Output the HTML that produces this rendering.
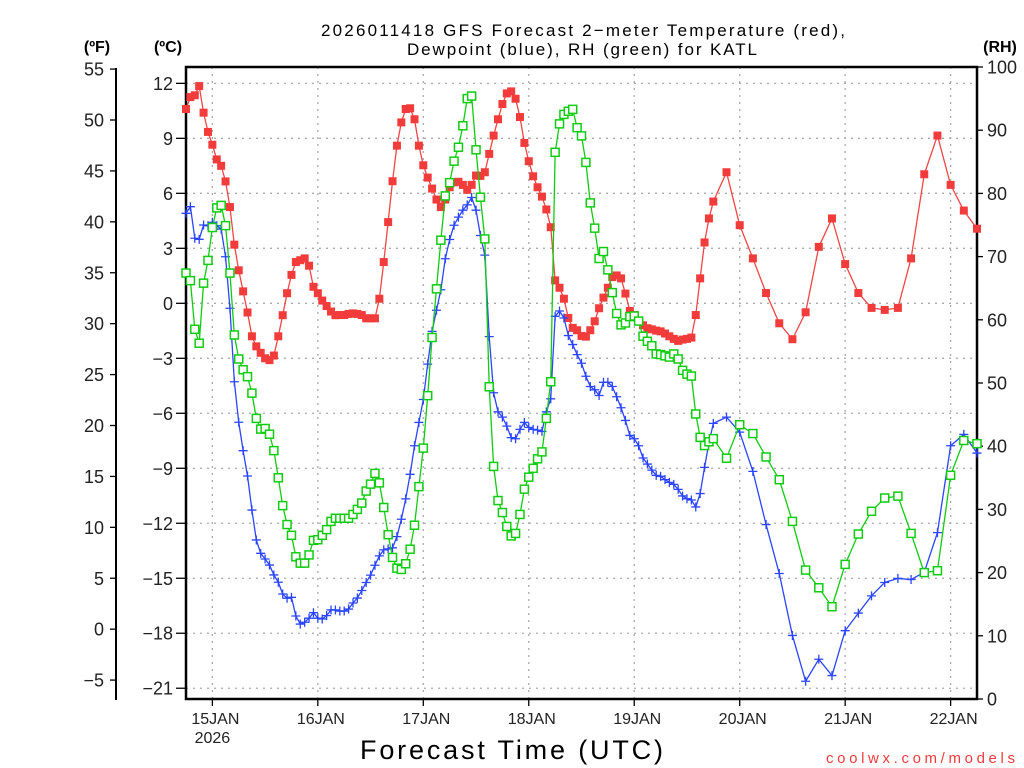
<!DOCTYPE html>
<html><head><meta charset="utf-8"><style>
html,body{margin:0;padding:0;background:#fff;}
svg{display:block;font-family:"Liberation Sans",sans-serif;}
</style></head><body>
<svg id="chart" width="1024" height="768" viewBox="0 0 1024 768" xmlns="http://www.w3.org/2000/svg">
<text x="321" y="36" font-size="17" textLength="524" lengthAdjust="spacing" fill="#000">2026011418 GFS Forecast 2−meter Temperature (red),</text>
<text x="407" y="55" font-size="17" textLength="350" lengthAdjust="spacing" fill="#000">Dewpoint (blue), RH (green) for KATL</text>
<text x="97" y="52" font-size="16" font-weight="bold" text-anchor="middle">(ºF)</text>
<text x="168" y="52" font-size="16" font-weight="bold" text-anchor="middle">(ºC)</text>
<text x="1000" y="52" font-size="16" font-weight="bold" text-anchor="middle">(RH)</text>
<g id="grid"></g>
<g id="axes"></g>
<g id="series"></g>
<text x="360" y="759" font-size="27" textLength="303" lengthAdjust="spacing">Forecast Time (UTC)</text>
<text x="826" y="763" font-size="15" textLength="189" lengthAdjust="spacing" fill="#f03c3c">coolwx.com/models</text>
</svg>
<script>
const hours = [0,1,2,3,4,5,6,7,8,9,10,11,12,13,14,15,16,17,18,19,20,21,22,23,24,25,26,27,28,29,30,31,32,33,34,35,36,37,38,39,40,41,42,43,44,45,46,47,48,49,50,51,52,53,54,55,56,57,58,59,60,61,62,63,64,65,66,67,68,69,70,71,72,73,74,75,76,77,78,79,80,81,82,83,84,85,86,87,88,89,90,91,92,93,94,95,96,97,98,99,100,101,102,103,104,105,106,107,108,109,110,111,112,113,114,115,116,117,118,119,120,123,126,129,132,135,138,141,144,147,150,153,156,159,162,165,168,171,174,177,180];
const tempC = [10.6,11.25,11.35,11.85,10.4,9.35,8.65,7.85,7.5,6.65,5.25,3.2,1.8,0.65,-0.5,-1.8,-2.35,-2.7,-3.0,-3.1,-2.85,-1.8,-0.65,0.55,1.55,2.25,2.35,2.45,2.05,0.9,0.55,0.15,-0.15,-0.45,-0.65,
-0.64,-0.64,-0.58,-0.55,-0.58,-0.64,-0.82,-0.82,-0.82,
0.25,2.25,4.43,6.66,8.6,9.87,10.6,10.64,10.04,8.6,7.53,6.86,6.26,5.66,5.25,5.66,6.33,6.6,6.63,6.46,6.19,6.46,6.97,6.95,7.15,8.15,9.15,10.04,
10.87,11.45,11.56,11.16,10.16,8.75,7.75,6.93,6.33,5.82,5.12,4.15,1.25,0.85,0.25,-0.8,-1.34,-1.47,-1.78,-1.82,-1.47,-0.98,-0.27,0.31,0.85,1.43,1.52,1.36,0.53,-0.42,-0.64,-0.98,-1.2,-1.36,-1.42,-1.49,
-1.53,-1.65,-1.8,-1.94,-2.05,-1.98,-1.94,-1.87,-0.64,1.36,3.32,4.63,5.55,
7.15,4.26,2.45,0.56,-1.09,-1.96,-0.49,3.08,4.63,2.14,0.56,-0.25,-0.36,-0.25,2.45,7.04,9.15,6.46,5.06,4.07];
const dewC = [4.91,5.27,3.55,3.49,4.27,4.23,4.42,4.23,4.05,2.54,-0.27,
-4.28,-6.49,-8.04,-9.42,-11.28,-12.91,-13.64,-13.95,-14.28,-14.82,-15.22,-15.86,-16.09,-16.04,-17.06,-17.5,-17.4,-17.18,-16.88,-17.18,-17.22,-17.04,-16.73,-16.73,
-16.79,-16.79,-16.68,-16.35,-16.08,-15.67,-15.23,-14.83,-14.29,-13.78,-13.45,-13.4,-13.34,-12.73,-11.78,-10.67,-9.33,-7.77,-6.5,-5.25,-3.32,-1.53,-0.38,0.74,2.43,3.48,4.26,4.7,5.08,5.37,5.77,5.08,3.7,2.63,-1.82,-4.88,-5.92,
-6.21,-6.7,-7.33,-7.39,-6.88,-6.5,-6.77,-6.88,-6.92,-6.99,-5.92,-5.21,-0.71,-0.42,-0.8,-1.76,-2.25,-2.8,-3.27,-3.98,-4.54,-4.72,-5.03,-4.31,-4.31,-4.54,-5.1,-5.7,-6.39,-7.21,-7.39,-7.77,-8.44,-8.77,-9.1,-9.39,
-9.44,-9.62,-9.77,-9.88,-10.15,-10.51,-10.66,-10.73,-11.11,-10.38,-8.95,-7.61,-6.55,
-6.21,-7.03,-9.17,-12.07,-14.74,-18.12,-20.62,-19.42,-20.31,-17.86,-16.9,-15.96,-15.23,-15.01,-15.07,-14.67,-12.51,-7.77,-7.15,-8.17];
const rhPct = [67.4,66.2,58.5,56.3,65.8,69.4,74.6,77.7,78.1,74.9,67.4,57.6,53.8,52.1,51.0,
48.4,44.4,42.7,42.8,41.9,39.3,35.0,30.6,27.6,25.9,22.5,21.5,21.5,22.8,25.1,25.2,25.9,26.8,28.1,28.6,
28.6,28.6,28.6,29.2,30.0,31.0,32.9,34.0,35.7,34.2,30.3,26.0,22.4,20.7,20.5,21.4,23.7,27.5,33.6,39.7,48.0,57.2,64.9,72.6,79.6,81.7,85.1,87.3,90.7,95.0,95.4,86.9,79.4,72.8,49.4,36.8,31.4,
29.5,27.3,25.8,26.2,29.2,33.2,35.1,36.5,38.0,39.1,44.4,50.2,86.5,91.0,92.5,93.0,93.3,90.4,89.1,84.9,78.5,74.5,69.7,70.8,67.9,64.3,61.0,59.2,59.5,60.5,60.6,59.8,57.4,56.6,55.9,54.6,
54.5,54.3,54.1,54.6,53.8,52.0,51.4,51.1,45.1,41.4,40.1,40.7,41.2,
38.1,43.4,42.0,38.3,34.7,28.1,20.4,17.6,14.6,21.3,26.1,29.7,31.8,32.1,26.2,20.0,20.3,35.4,40.9,40.4];
const celsiusTicks = [12,9,6,3,0,-3,-6,-9,-12,-15,-18,-21];
const fahrenheitTicks = [55,50,45,40,35,30,25,20,15,10,5,0,-5];
const rhTicks = [100,90,80,70,60,50,40,30,20,10,0];
const dayLabels = ["15JAN","16JAN","17JAN","18JAN","19JAN","20JAN","21JAN","22JAN"];
const dayHours = [6,30,54,78,102,126,150,174];

const L=186, R=977, T=67, B=699;
const xS = h => L + h*(R-L)/180;
const yC = c => 303.3 - c*18.33;
const yF = f => yC((f-32)/1.8);
const yRH = r => B - r*6.32;
const NS="http://www.w3.org/2000/svg";
function mk(tag, attrs, parent){const e=document.createElementNS(NS,tag);for(const k in attrs)e.setAttribute(k,attrs[k]);parent.appendChild(e);return e;}
const grid=document.getElementById('grid'), axes=document.getElementById('axes'), series=document.getElementById('series');

celsiusTicks.forEach(c=>{
  const y=yC(c);
  const g=mk('line',{x1:L,x2:R,y1:y,y2:y,stroke:'#aaa','stroke-width':1.3,'stroke-dasharray':'2,5'},grid);
  
  
  const t=mk('line',{x1:L-10,x2:L,y1:y,y2:y,stroke:'#000','stroke-width':1.3},axes);
  
  
  const lb=mk('text',{x:173,y:y+6.5,'font-size':18,'text-anchor':'end',fill:'#222'},axes);
  lb.textContent=(c<0?'−'+Math.abs(c):String(c));
  
  
});
dayHours.forEach((h,i)=>{
  const x=xS(h);
  const g=mk('line',{x1:x,x2:x,y1:T,y2:B,stroke:'#aaa','stroke-width':1.3,'stroke-dasharray':'2,5'},grid);
  
  
  const t=mk('line',{x1:x,x2:x,y1:B,y2:B+7,stroke:'#000','stroke-width':1.3},axes);
  
  
  const lb=mk('text',{x:x+3,y:724,'font-size':16,'text-anchor':'middle',fill:'#222'},axes);
  lb.textContent=dayLabels[i];
  
  
});
const yr=mk('text',{x:xS(6),y:743,'font-size':16,'text-anchor':'middle',fill:'#222'},axes);
yr.textContent='2026';



const fa=mk('line',{x1:116,x2:116,y1:68,y2:700,stroke:'#000','stroke-width':2},axes);


fahrenheitTicks.forEach(f=>{
  const y=yF(f);
  const t=mk('line',{x1:110,x2:116,y1:y,y2:y,stroke:'#000','stroke-width':1.3},axes);
  
  
  const lb=mk('text',{x:104,y:y+6.5,'font-size':18,'text-anchor':'end',fill:'#222'},axes);
  lb.textContent=(f<0?'−'+Math.abs(f):String(f));
  
  
});
rhTicks.forEach(r=>{
  const y=yRH(r);
  const t=mk('line',{x1:R,x2:R+6,y1:y,y2:y,stroke:'#000','stroke-width':1.3},axes);
  
  
  const lb=mk('text',{x:987,y:y+6.5,'font-size':18,'text-anchor':'start',fill:'#222'},axes);
  lb.textContent=String(r);
  
  
});
const frame=mk('rect',{x:L,y:T,width:R-L,height:B-T,fill:'none',stroke:'#000','stroke-width':2.5},axes);



function drawLine(vals, yfn, color, name){
  const pts=vals.map((v,i)=>xS(hours[i]).toFixed(2)+','+yfn(v).toFixed(2)).join(' ');
  const pl=mk('polyline',{points:pts,fill:'none',stroke:color,'stroke-width':1.3},series);
  
  
}
drawLine(tempC,yC,'#f04545','temperature');
tempC.forEach((v,i)=>{
  const x=xS(hours[i]), y=yC(v);
  const m=mk('rect',{x:x-4,y:y-4,width:8,height:8,fill:'#f23c3c'},series);
  
  
});
drawLine(dewC,yC,'#2a44ff','dewpoint');
dewC.forEach((v,i)=>{
  const x=xS(hours[i]), y=yC(v);
  const m=mk('path',{d:`M${x-4.5},${y}H${x+4.5}M${x},${y-4.5}V${y+4.5}`,stroke:'#2a44ff','stroke-width':1.3,fill:'none'},series);
  
  
});
drawLine(rhPct,yRH,'#10cc10','rh');
rhPct.forEach((v,i)=>{
  const x=xS(hours[i]), y=yRH(v);
  const m=mk('rect',{x:x-4,y:y-4,width:8,height:8,fill:'#fff',stroke:'#10cc10','stroke-width':1.5},series);
  
  
});
</script>
</body></html>
